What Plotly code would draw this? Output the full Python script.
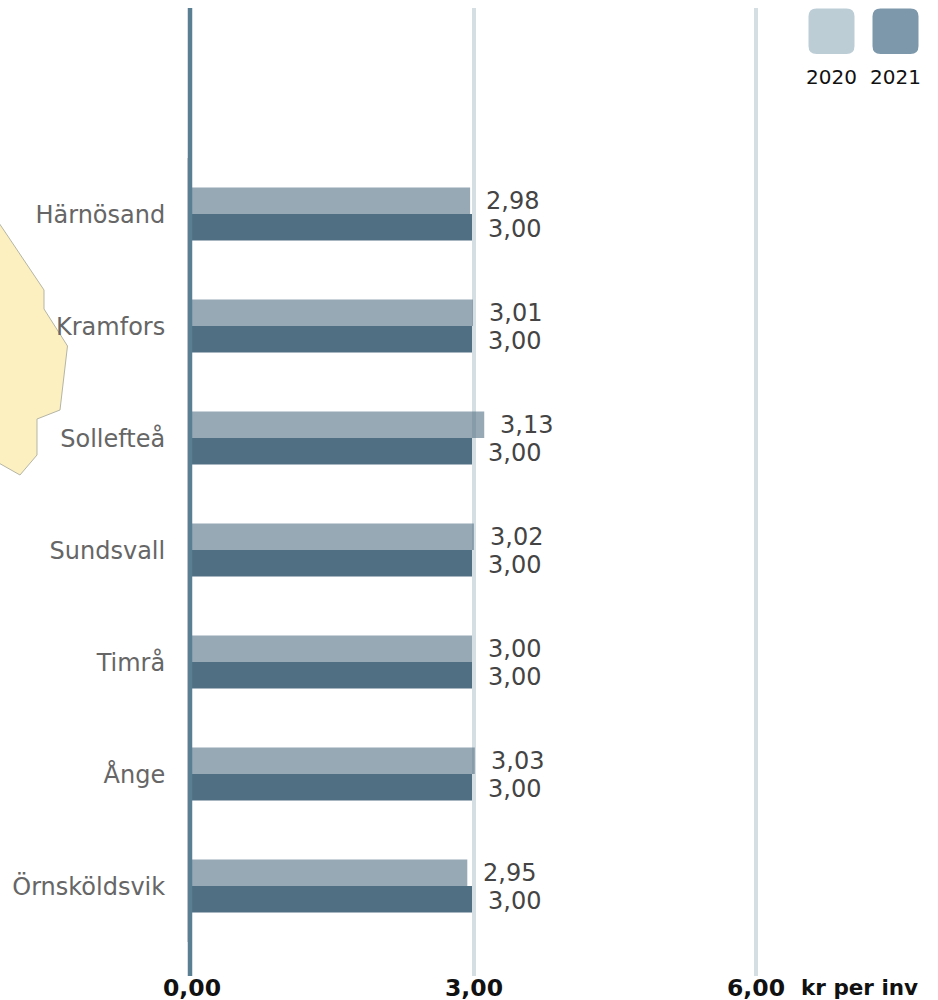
import plotly.graph_objects as go

categories = ["Härnösand", "Kramfors", "Sollefteå", "Sundsvall", "Timrå", "Ånge", "Örnsköldsvik"]
values_2020 = [2.98, 3.01, 3.13, 3.02, 3.00, 3.03, 2.95]
values_2021 = [3.00, 3.00, 3.00, 3.00, 3.00, 3.00, 3.00]
tick_values = [0, 3, 6]
legend_years = ["2020", "2021"]
legend_colors = ["#bccdd6", "#7c98aa"]
unit_label = "kr per inv"
map_px_x = [-3, 44, 44, 67.5, 60, 37, 37, 20, -3]
map_px_y = [220, 290, 309, 346, 410, 419, 455, 475, 462]

W, H = 938, 1000
ML, MR, MT, MB = 190, 88, 8, 24
PW, PH = W - ML - MR, H - MT - MB
FONT = "DejaVu Sans, Verdana, sans-serif"
BAR = "#516f82"
POS = [0, 1, 2, 3, 4, 5, 6]
X_RANGE = [0, (PW - 2) / 94]
Y_RANGE = [6.804, -1.839]
Y_LABEL_NUDGE = 1 / 112


def px(x):
    return (x - ML) / PW


def py(y):
    return 1 - (y - MT) / PH


fig = go.Figure()
fig.add_scatter(x=[None], y=[None], xaxis="x", yaxis="y", showlegend=False, hoverinfo="skip")
fig.add_bar(y=POS, x=values_2020, orientation="h", name="2020", xaxis="x2", yaxis="y2",
            marker=dict(color="rgba(81,111,130,0.6)", line_width=0))
fig.add_bar(y=POS, x=values_2021, orientation="h", name="2021", xaxis="x2", yaxis="y2",
            marker=dict(color=BAR, line_width=0))

annotations = []
for i, (a, b) in enumerate(zip(values_2020, values_2021)):
    for val, off in ((a, -0.125), (b, 0.125)):
        annotations.append(dict(x=val, y=i + off, xref="x2", yref="y2", text=f"{val:.2f}".replace(".", ","),
                                xanchor="left", yanchor="middle", xshift=14, yshift=-1, showarrow=False,
                                font=dict(family=FONT, size=24, color="#444444")))

shapes = []
map_path = "M " + " L ".join(f"{px(x):.5f},{py(y):.5f}" for x, y in zip(map_px_x, map_px_y)) + " Z"
shapes.append(dict(type="path", path=map_path, xref="paper", yref="paper", layer="below",
                   fillcolor="#fdf0c0", line=dict(color="#b5b5a5", width=1)))
shapes.append(dict(type="line", xref="paper", yref="paper", x0=px(187.5), x1=px(187.5), y0=py(158), y1=py(942),
                   line=dict(color="#d9d9d9", width=1), layer="below"))
shapes.append(dict(type="line", xref="paper", yref="paper", x0=0, x1=0, y0=0, y1=1,
                   line=dict(color="#5a7f92", width=4.5), layer="above"))

for k, (yr, col) in enumerate(zip(legend_years, legend_colors)):
    x0, x1, y0, y1, r = 808.5 + 64 * k, 854.5 + 64 * k, 8.5, 54, 8
    path = (f"M {px(x0 + r)},{py(y0)} L {px(x1 - r)},{py(y0)} Q {px(x1)},{py(y0)} {px(x1)},{py(y0 + r)} "
            f"L {px(x1)},{py(y1 - r)} Q {px(x1)},{py(y1)} {px(x1 - r)},{py(y1)} "
            f"L {px(x0 + r)},{py(y1)} Q {px(x0)},{py(y1)} {px(x0)},{py(y1 - r)} "
            f"L {px(x0)},{py(y0 + r)} Q {px(x0)},{py(y0)} {px(x0 + r)},{py(y0)} Z")
    shapes.append(dict(type="path", path=path, xref="paper", yref="paper", fillcolor=col, line_width=0))
    annotations.append(dict(x=px((x0 + x1) / 2), y=py(77), xref="paper", yref="paper", text=yr, showarrow=False,
                            xanchor="center", yanchor="middle", font=dict(family=FONT, size=20, color="#111111")))

annotations.append(dict(x=px(859.5), y=py(987), xref="paper", yref="paper", text=f"<b>{unit_label}</b>", showarrow=False,
                        xanchor="center", yanchor="middle", font=dict(family=FONT, size=21.5, color="#111111")))

fig.update_layout(
    width=W, height=H, margin=dict(l=ML, r=MR, t=MT, b=MB, autoexpand=False),
    paper_bgcolor="white", plot_bgcolor="rgba(0,0,0,0)", showlegend=False,
    barmode="group", bargap=0.527, bargroupgap=0, separators=",.",
    annotations=annotations, shapes=shapes,
    xaxis=dict(domain=[2 / PW, 1], range=X_RANGE, anchor="y", tickvals=tick_values, tickformat=".2f",
               showgrid=True, gridcolor="#d5dee3", gridwidth=4, zeroline=False, showline=False, ticks="",
               fixedrange=True, ticklabelstandoff=-5,
               tickfont=dict(family=FONT, size=23.5, color="#111111", weight=700)),
    yaxis=dict(domain=[0, 1], anchor="x", range=[Y_RANGE[0] - Y_LABEL_NUDGE, Y_RANGE[1] - Y_LABEL_NUDGE],
               tickvals=POS, ticktext=categories, showgrid=False, zeroline=False,
               showline=False, ticks="outside", ticklen=21, tickcolor="rgba(0,0,0,0)", fixedrange=True,
               tickfont=dict(family=FONT, size=24, color="#666666")),
    xaxis2=dict(domain=[0, 1 - 2 / PW], range=X_RANGE, anchor="y2", showgrid=False, zeroline=False,
                showticklabels=False, showline=False, ticks="", fixedrange=True),
    yaxis2=dict(domain=[0, 1], anchor="x2", range=Y_RANGE, showgrid=False, zeroline=False, showticklabels=False,
                showline=False, ticks="", fixedrange=True),
)
fig.write_html("out.html", config={"displayModeBar": False},
               post_script="document.body.style.margin='0';document.documentElement.style.overflow='hidden';")
